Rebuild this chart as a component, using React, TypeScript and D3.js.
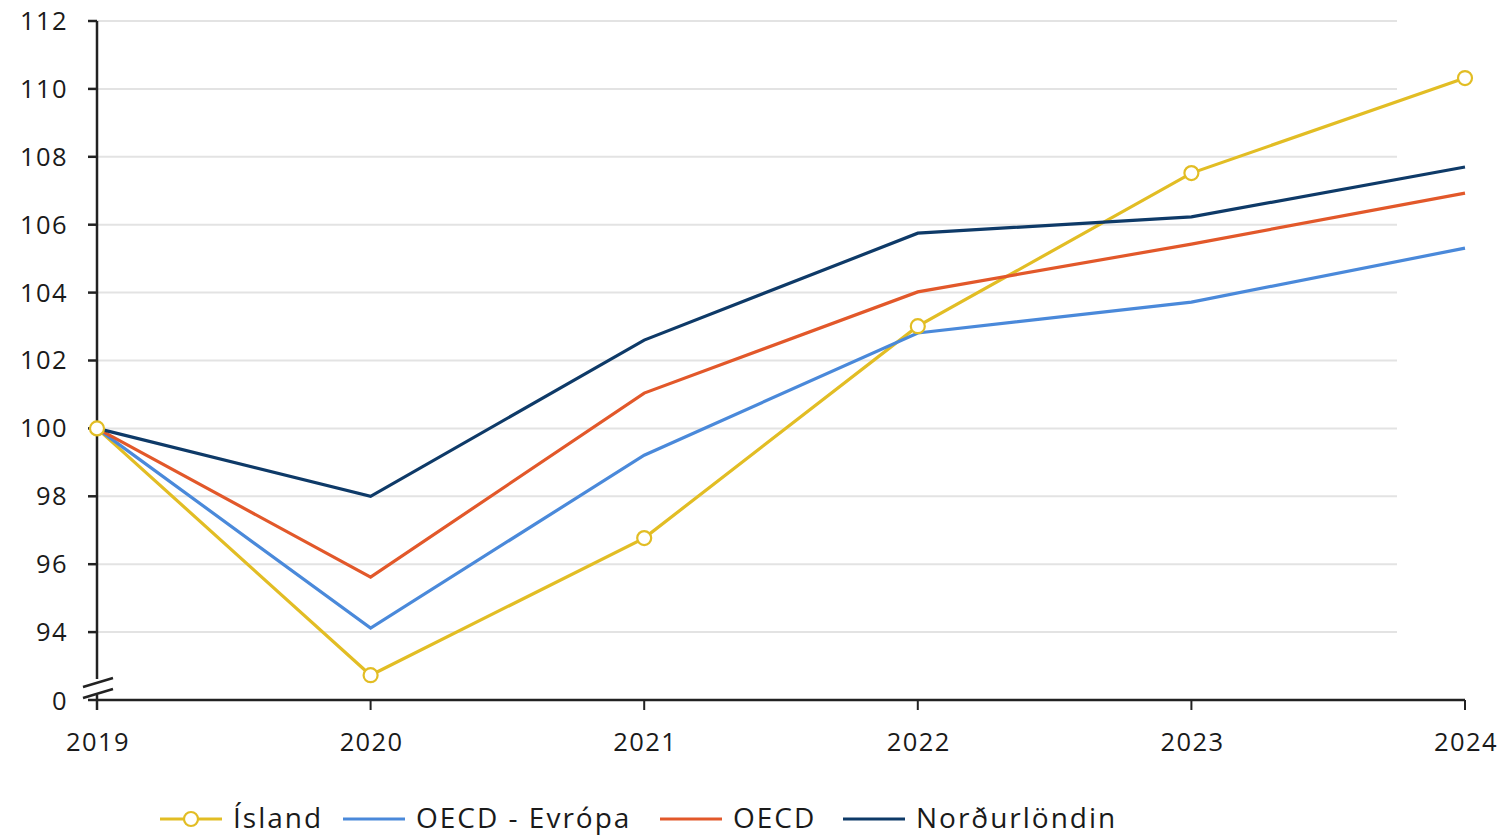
import React from "react";
import * as d3 from "d3";

const years = [2019, 2020, 2021, 2022, 2023, 2024];
const island = [100, 92.73, 96.77, 103.01, 107.52, 110.32];
const oecdEuropa = [100, 94.12, 99.21, 102.81, 103.72, 105.31];
const oecd = [100, 95.62, 101.04, 104.02, 105.43, 106.93];
const nordurlondin = [100, 98.0, 102.6, 105.75, 106.23, 107.7];
const yTicks = [94, 96, 98, 100, 102, 104, 106, 108, 110, 112];
const yBase = 92; // shown as "0" below the axis break

const series = [
  { name: "Ísland", values: island, color: "#E2BD24", markers: true },
  { name: "OECD - Evrópa", values: oecdEuropa, color: "#4A89DA", markers: false },
  { name: "OECD", values: oecd, color: "#E2582A", markers: false },
  { name: "Norðurlöndin", values: nordurlondin, color: "#0E3A68", markers: false },
];

const W = 1504;
const H = 836;
const x0 = 97;
const x1 = 1465;
const yTop = 21;
const yBot = 700;

export default function App() {
  const x = d3.scalePoint<number>().domain(years).range([x0, x1]);
  const y = d3.scaleLinear().domain([yBase, 112]).range([yBot, yTop]);
  const line = d3
    .line<number>()
    .x((_, i) => x(years[i]) as number)
    .y((d) => y(d));

  const font = "'Open Sans', Lato, sans-serif";
  const breakY1 = y(yBase) - 17;
  const breakY2 = y(yBase) - 7;
  const tickFont = { fontSize: 25.5, letterSpacing: 1.4, fill: "#1a1a1a" };

  const legendItems = [
    { lx: 160, tx: 233 },
    { lx: 343, tx: 416 },
    { lx: 660, tx: 733 },
    { lx: 843, tx: 916 },
  ];

  return (
    <svg
      width={W}
      height={H}
      style={{ position: "absolute", left: 0, top: 0, background: "#fff" }}
      fontFamily={font}
    >
      {/* gridlines */}
      {yTicks.map((t) => (
        <line key={"g" + t} x1={x0} x2={1397} y1={y(t)} y2={y(t)} stroke="#e3e3e3" strokeWidth={2} />
      ))}
      {/* y axis with break */}
      <line x1={x0} x2={x0} y1={yTop} y2={breakY1 - 4} stroke="#222" strokeWidth={2.5} />
      <line x1={x0} x2={x0} y1={breakY2 + 2} y2={y(yBase) + 10} stroke="#222" strokeWidth={2.5} />
      <line x1={83} x2={113} y1={breakY1 + 4} y2={breakY1 - 5} stroke="#222" strokeWidth={2.5} />
      <line x1={83} x2={113} y1={breakY2 + 5} y2={breakY2 - 4} stroke="#222" strokeWidth={2.5} />
      {yTicks.map((t) => (
        <g key={"t" + t}>
          <line x1={x0 - 9} x2={x0} y1={y(t)} y2={y(t)} stroke="#222" strokeWidth={2.5} />
          <text x={68} y={y(t)} dy="0.35em" textAnchor="end" {...tickFont}>
            {t}
          </text>
        </g>
      ))}
      <line x1={x0 - 9} x2={x0} y1={y(yBase)} y2={y(yBase)} stroke="#222" strokeWidth={2.5} />
      <text x={68} y={y(yBase)} dy="0.4em" textAnchor="end" {...tickFont}>
        0
      </text>
      {/* x axis */}
      <line x1={x0} x2={x1} y1={y(yBase)} y2={y(yBase)} stroke="#222" strokeWidth={2.5} />
      {years.map((yr) => (
        <g key={"x" + yr}>
          <line x1={x(yr)} x2={x(yr)} y1={y(yBase)} y2={y(yBase) + 10} stroke="#222" strokeWidth={2} />
          <text x={(x(yr) as number) + 1} y={751} textAnchor="middle" {...tickFont}>
            {yr}
          </text>
        </g>
      ))}
      {/* series */}
      {series.map((s) => (
        <path key={s.name} d={line(s.values) || ""} fill="none" stroke={s.color} strokeWidth={3.2} />
      ))}
      {series
        .filter((s) => s.markers)
        .map((s) =>
          s.values.map((v, i) => (
            <circle
              key={s.name + i}
              cx={x(years[i])}
              cy={y(v)}
              r={7}
              fill="#fff"
              stroke={s.color}
              strokeWidth={2.2}
            />
          ))
        )}
      {/* legend */}
      {series.map((s, i) => {
        const it = legendItems[i];
        return (
          <g key={"l" + s.name}>
            <line x1={it.lx} x2={it.lx + 62} y1={819} y2={819} stroke={s.color} strokeWidth={3} />
            {s.markers && (
              <circle cx={it.lx + 31} cy={819} r={7} fill="#fff" stroke={s.color} strokeWidth={2.2} />
            )}
            <text x={it.tx} y={828} fontSize={28} letterSpacing={2} fill="#1a1a1a">
              {s.name}
            </text>
          </g>
        );
      })}
    </svg>
  );
}
